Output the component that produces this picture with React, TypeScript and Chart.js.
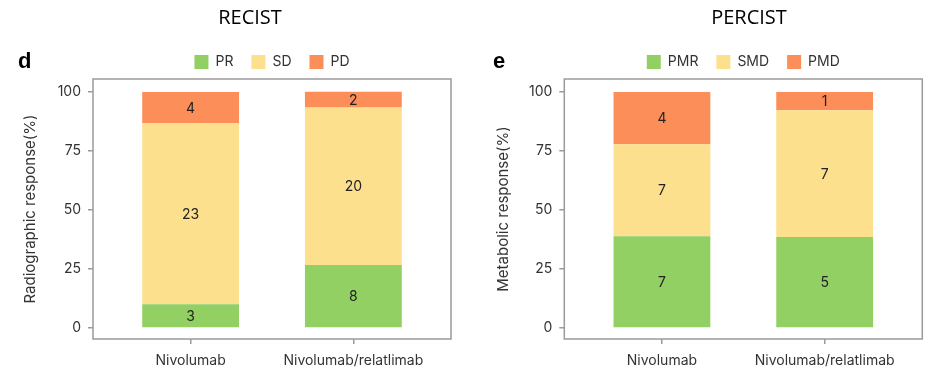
import React, { useEffect, useRef } from 'react';
import { Chart, registerables } from 'chart.js';

Chart.register(...registerables);

// ---- data ----
const groups = ['Nivolumab', 'Nivolumab/relatlimab'];

const recistNames = ['PR', 'SD', 'PD'];
const recistCounts = [
  [3, 8], // PR
  [23, 20], // SD
  [4, 2], // PD
];
const recistPct = [
  [10.0, 26.7],
  [76.7, 66.7],
  [13.3, 6.7],
];

const percistNames = ['PMR', 'SMD', 'PMD'];
const percistCounts = [
  [7, 5], // PMR
  [7, 7], // SMD
  [4, 1], // PMD
];
const percistPct = [
  [38.9, 38.5],
  [38.9, 53.8],
  [22.2, 7.7],
];

const yTicks = [0, 25, 50, 75, 100];
const seriesColors = ['#92D064', '#FCE08E', '#FC8E5A'];

const FONT = 'Inter, "Liberation Sans", Arial, sans-serif';
const TEXT = '#333333';
const AXIS = '#9a9a9a';

type PanelProps = {
  width: number;
  title: string;
  titleX: number;
  letter: string;
  letterX: number;
  yTitle: string;
  names: string[];
  counts: number[][];
  pct: number[][];
  padLeft: number;
  padRight: number;
  yWidth: number;
};

function Panel(p: PanelProps) {
  const ref = useRef<HTMLCanvasElement | null>(null);
  useEffect(() => {
    if (!ref.current) return;
    const decor = {
      id: 'decor',
      afterDatasetsDraw(chart: any) {
        const ctx = chart.ctx;
        ctx.save();
        ctx.font = `14px ${FONT}`;
        ctx.fillStyle = '#222';
        ctx.textAlign = 'center';
        ctx.textBaseline = 'middle';
        chart.data.datasets.forEach((_ds: any, i: number) => {
          const meta = chart.getDatasetMeta(i);
          meta.data.forEach((el: any, j: number) => {
            const { x, y, base } = el.getProps(['x', 'y', 'base'], true);
            ctx.fillText(String(p.counts[i][j]), x, (y + base) / 2 + 1);
          });
        });
        ctx.restore();
      },
      afterDraw(chart: any) {
        const ctx = chart.ctx;
        const { left, top, right, bottom } = chart.chartArea;
        ctx.save();
        ctx.strokeStyle = AXIS;
        ctx.lineWidth = 1.5;
        ctx.strokeRect(left, top, right - left, bottom - top);
        ctx.fillStyle = '#000';
        ctx.textBaseline = 'middle';
        ctx.textAlign = 'center';
        ctx.font = `20px "Open Sans", "Noto Sans", sans-serif`;
        ctx.fillText(p.title, p.titleX, 18);
        ctx.textAlign = 'left';
        ctx.font = `bold 22px "Liberation Sans", Arial, sans-serif`;
        ctx.fillText(p.letter, p.letterX, 62);
        ctx.restore();
      },
    };

    const chart = new Chart(ref.current, {
      type: 'bar',
      data: {
        datasets: p.names.map((name, i) => ({
          label: name,
          data: groups.map((_g, j) => ({ x: j, y: p.pct[i][j] })),
          backgroundColor: seriesColors[i],
          borderWidth: 0,
          barPercentage: 0.595,
          categoryPercentage: 1,
        })),
      },
      options: {
        animation: false,
        responsive: false,
        layout: { padding: { top: 37, left: p.padLeft, right: p.padRight, bottom: 0 } },
        plugins: {
          tooltip: { enabled: false },
          legend: {
            position: 'top',
            fullSize: false,
            labels: {
              boxWidth: 14,
              boxHeight: 14,
              padding: 18,
              color: TEXT,
              font: { family: FONT, size: 14 },
            },
          },
        },
        scales: {
          x: {
            type: 'linear',
            stacked: true,
            offset: false,
            min: -0.6,
            max: 1.6,
            afterBuildTicks: (s: any) => {
              s.ticks = groups.map((_g, i) => ({ value: i }));
            },
            afterFit: (s: any) => {
              s.height = 33;
            },
            ticks: {
              padding: 8,
              color: TEXT,
              font: { family: FONT, size: 14 },
              maxRotation: 0,
              autoSkip: false,
              callback: (v: any) => groups[v] ?? '',
            },
            grid: { offset: false, drawOnChartArea: false, drawTicks: true, tickLength: 5, color: AXIS, lineWidth: 1.5 },
            border: { display: false },
          },
          y: {
            stacked: true,
            min: -4.7,
            max: 105.5,
            afterBuildTicks: (s: any) => {
              s.ticks = yTicks.map((v) => ({ value: v }));
            },
            afterFit: (s: any) => {
              s.width = p.yWidth;
            },
            ticks: {
              padding: 7,
              color: TEXT,
              font: { family: FONT, size: 14 },
            },
            grid: { drawOnChartArea: false, drawTicks: true, tickLength: 5, color: AXIS, lineWidth: 1.5 },
            border: { display: false },
            title: {
              display: true,
              text: p.yTitle,
              color: TEXT,
              font: { family: FONT, size: 15 },
              padding: { top: 4, bottom: 4 },
            },
          },
        },
      },
      plugins: [decor],
    } as any);
    return () => chart.destroy();
  }, []);
  return <canvas ref={ref} width={p.width} height={372} style={{ display: 'block', width: p.width, height: 372 }} />;
}

export default function App() {
  return (
    <div style={{ position: 'absolute', left: 0, top: 0, width: 937, height: 372, display: 'flex', background: '#fff' }}>
      <Panel
        width={470}
        title="RECIST"
        titleX={250}
        letter="d"
        letterX={18}
        yTitle="Radiographic response(%)"
        names={recistNames}
        counts={recistCounts}
        pct={recistPct}
        padLeft={17}
        padRight={19}
        yWidth={76}
      />
      <Panel
        width={467}
        title="PERCIST"
        titleX={279}
        letter="e"
        letterX={23}
        yTitle="Metabolic response(%)"
        names={percistNames}
        counts={percistCounts}
        pct={percistPct}
        padLeft={20}
        padRight={14.7}
        yWidth={74.3}
      />
    </div>
  );
}
